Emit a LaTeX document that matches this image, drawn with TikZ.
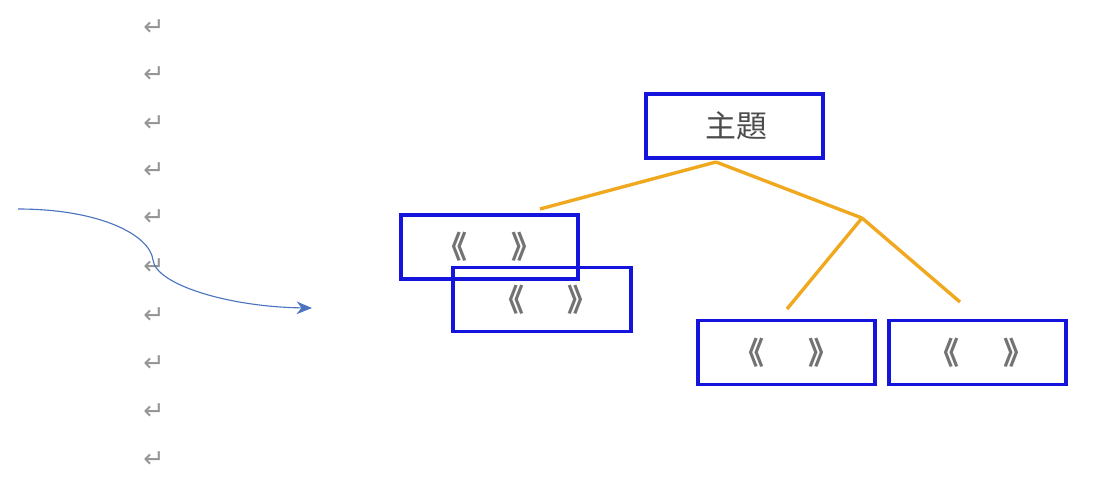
\documentclass[tikz,border=0pt]{standalone}
\usepackage{fontspec}
\usepackage{tikz}
\usetikzlibrary{positioning,arrows.meta}
\newfontfamily\cjk{Noto Sans CJK TC}
\newfontfamily\symfont{DejaVu Sans}
\definecolor{boxblue}{RGB}{20,20,220}
\definecolor{branch}{RGB}{240,168,30}
\definecolor{markgray}{RGB}{150,150,150}
\definecolor{curveblue}{RGB}{75,115,190}

\begin{document}
\begin{tikzpicture}[x=0.025cm,y=-0.025cm,
  topicbox/.style={draw=boxblue,line width=2.8pt,minimum width=4.43cm,minimum height=1.6cm,
    inner sep=0pt,font=\cjk\fontsize{22}{22}\selectfont,text=black!70},
  subbox/.style={topicbox,text=black!55,font=\cjk\bfseries\fontsize{22}{22}\selectfont},
  retmark/.style={font=\symfont\fontsize{18}{18}\selectfont,text=markgray,inner sep=0pt},
  branchline/.style={branch,line width=2.4pt}
]
\useasboundingbox (0,0) rectangle (1093,481);

% the paragraph marks
\foreach \i/\ycoord in {1/28,2/75,3/124,4/171,5/218,6/267,7/316,8/364,9/412,10/460}
  \node[retmark] (r\i) at (154,\ycoord) {↵};

% the boxes
\node[topicbox] (topic) at (734.5,126) {\hspace{0.15em}主題};
\node[subbox] (left1) at (489.5,247) {《\hspace{1.4em}》\hspace{0.9em}};
\node[subbox] (left2) at (542,299.5) {\hspace{0.25em}《\hspace{1.4em}》};
\node[subbox] (right1) at (786.5,352.5) {《\hspace{1.4em}》\hspace{0.9em}};
\node[subbox] (right2) at (977.5,352.5) {\hspace{0.25em}《\hspace{1.4em}》};

% the branches
\coordinate (root) at (716,162);
\coordinate (leftend) at (540,209);
\coordinate (fork) at (862,218);
\coordinate (right1end) at (787,309);
\coordinate (right2end) at (960,302);
\draw[branchline] (root) -- (leftend);
\draw[branchline] (root) -- (fork);
\draw[branchline] (fork) -- (right1end);
\draw[branchline] (fork) -- (right2end);

% the curve
\coordinate (cstart) at (18,209);
\coordinate (cmid) at (153,260);
\coordinate (cend) at (312,308);
\draw[curveblue,line width=0.8pt,-{Stealth[length=11pt,width=9pt]}]
  (cstart) .. controls (100,209) and (150,235) .. (cmid)
  .. controls (156,285) and (230,307) .. (cend);
\end{tikzpicture}
\end{document}
